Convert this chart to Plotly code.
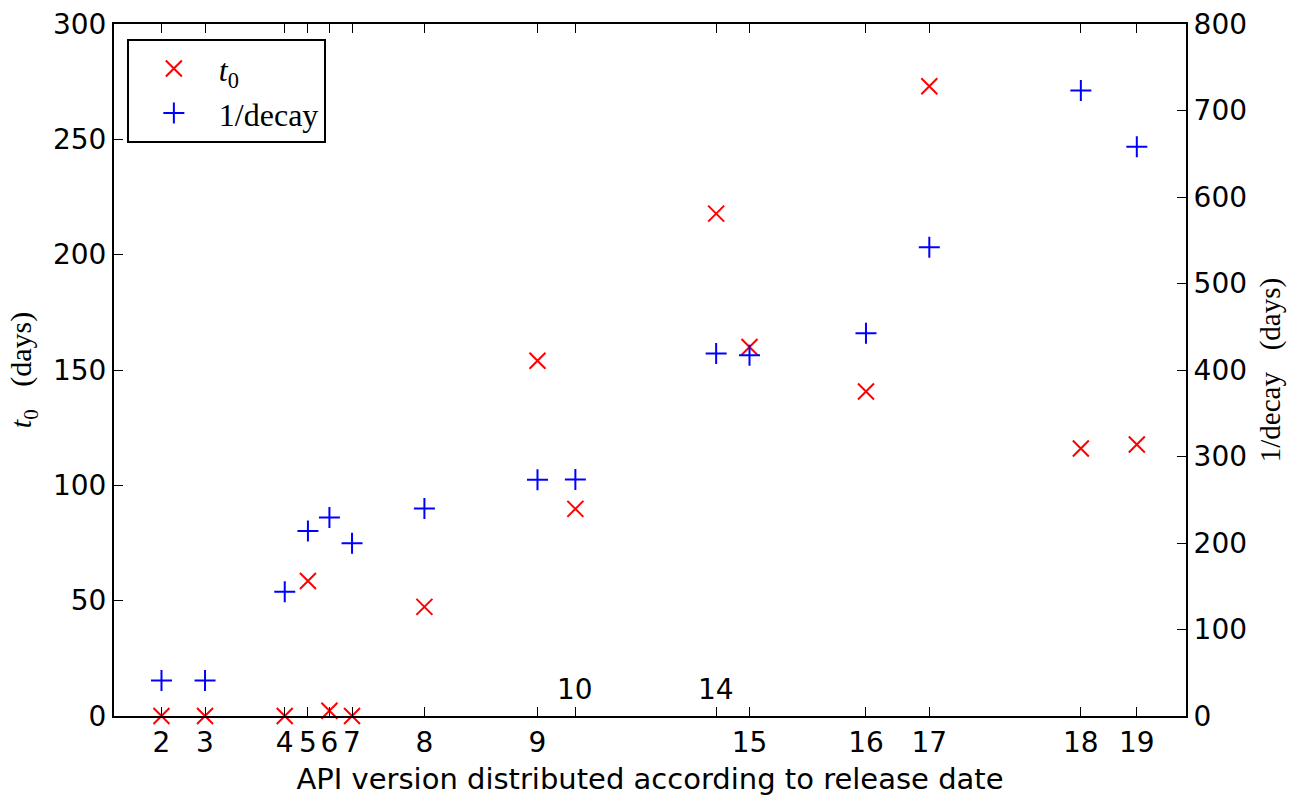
import plotly.graph_objects as go

# API versions and their release dates (x positions)
api_versions = ["2", "3", "4", "5", "6", "7", "8", "9", "10", "14", "15", "16", "17", "18", "19"]
release_dates = ["2009-02-09", "2009-04-27", "2009-09-15", "2009-10-26", "2009-12-03",
                 "2010-01-12", "2010-05-20", "2010-12-06", "2011-02-11", "2011-10-18",
                 "2011-12-16", "2012-07-09", "2012-10-29", "2013-07-24", "2013-10-31"]

# t0 (days), left axis
t0_values = [0, 0, 0, 58.5, 2.3, 0, 47.3, 154, 89.8, 217.8, 160, 140.7, 273, 116, 117.7]
# 1/decay (days), right axis
inv_decay_values = [41, 41, 143.5, 214, 229.5, 199.8, 240, 273, 273.5, 419, 417, 442.5, 542, 723, 658]

# tick labels shown below the axis (10 and 14 are written inside the plot instead)
inside_labels = ["10", "14"]
below_vals = [d for v, d in zip(api_versions, release_dates) if v not in inside_labels]
below_text = [v for v in api_versions if v not in inside_labels]
inside_vals = [d for v, d in zip(api_versions, release_dates) if v in inside_labels]

serif = "Liberation Serif, DejaVu Serif, serif"
sans = "DejaVu Sans, sans-serif"
TICK_FS = 28

fig = go.Figure()
fig.add_trace(go.Scatter(
    x=release_dates, y=t0_values, mode="markers", name="<i>t</i><sub>0</sub>",
    marker=dict(symbol="x-thin", size=16, color="#ff0000",
                line=dict(color="#ff0000", width=2)),
    cliponaxis=False, yaxis="y"))
fig.add_trace(go.Scatter(
    x=release_dates, y=inv_decay_values, mode="markers", name="1/decay",
    marker=dict(symbol="cross-thin", size=15, color="#0000ff",
                line=dict(color="#0000ff", width=2)),
    cliponaxis=False, yaxis="y2"))

for v, d in zip(api_versions, release_dates):
    if v in inside_labels:
        fig.add_annotation(x=d, y=11.7, xref="x", yref="y", text=v, showarrow=False,
                           yanchor="middle", xanchor="center",
                           font=dict(family=sans, size=TICK_FS, color="black"))

fig.update_layout(
    width=1301, height=796,
    margin=dict(l=114, r=115, t=24, b=80),
    paper_bgcolor="white", plot_bgcolor="white",
    showlegend=True,
    legend=dict(x=0.012, y=0.978, xanchor="left", yanchor="top",
                bordercolor="black", borderwidth=2, bgcolor="white",
                font=dict(family=serif, size=32, color="black"),
                itemwidth=80, tracegroupgap=4),
    xaxis=dict(
        type="date", automargin=False,
        range=["2008-11-17", "2014-01-26"],
        tickmode="array", tickvals=below_vals, ticktext=below_text,
        ticks="inside", ticklen=9, tickwidth=1, tickcolor="black",
        minor=dict(tickmode="array", tickvals=inside_vals, ticks="inside",
                   ticklen=9, tickwidth=1, tickcolor="black", showgrid=False),
        showline=True, linecolor="black", linewidth=2, mirror="ticks",
        showgrid=False, zeroline=False,
        tickfont=dict(family=sans, size=TICK_FS, color="black"),
        title=dict(text="API version distributed according to release date",
                   font=dict(family=sans, size=29, color="black"), standoff=12),
    ),
    yaxis=dict(
        range=[0, 300], tickvals=[0, 50, 100, 150, 200, 250, 300], automargin=False,
        ticks="inside", ticklen=9, tickwidth=1, tickcolor="black",
        showline=True, linecolor="black", linewidth=2,
        showgrid=False, zeroline=False,
        tickfont=dict(family=sans, size=TICK_FS, color="black"),
        title=dict(text="<i>t</i><sub>0</sub>   (days)",
                   font=dict(family=serif, size=30, color="black"), standoff=12),
    ),
    yaxis2=dict(
        range=[0, 800], tickvals=[0, 100, 200, 300, 400, 500, 600, 700, 800],
        overlaying="y", side="right", automargin=False,
        ticks="inside", ticklen=9, tickwidth=1, tickcolor="black",
        showline=True, linecolor="black", linewidth=2,
        showgrid=False, zeroline=False,
        tickfont=dict(family=sans, size=TICK_FS, color="black"),
        title=dict(text="1/decay   (days)",
                   font=dict(family=serif, size=29, color="black"), standoff=14),
    ),
)

fig.write_html("out.html")
